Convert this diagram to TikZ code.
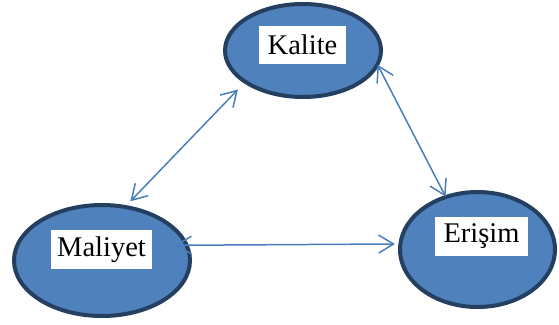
\documentclass[tikz,border=0pt]{standalone}
\usepackage{fontspec}
\setmainfont{Liberation Serif}
\usetikzlibrary{shapes.geometric,arrows.meta}
\definecolor{bubblefill}{HTML}{4F81BD}
\definecolor{bubbleedge}{HTML}{243F60}
\definecolor{linkblue}{HTML}{4A7EBB}
\tikzset{
  bubble/.style={ellipse, draw=bubbleedge, fill=bubblefill, line width=4pt, inner sep=0pt},
  tag/.style={fill=white, inner sep=0pt, font=\fontsize{28.5}{34}\selectfont},
  link/.style={draw=linkblue, line width=1.5pt,
    {Straight Barb[length=15pt,width=18pt]}-{Straight Barb[length=15pt,width=18pt]}}
}
\begin{document}
\begin{tikzpicture}[x=1pt,y=-1pt]
  \useasboundingbox (0,0) rectangle (559,324);
  % three factors
  \node[bubble, minimum width=156pt, minimum height=93pt] (kal) at (303,50.5) {};
  \node[bubble, minimum width=176pt, minimum height=111pt] (mal) at (102,260.5) {};
  \node[bubble, minimum width=155pt, minimum height=115pt] (eri) at (477.5,249.5) {};
  % labels on white boxes
  \node[tag, minimum width=87pt, minimum height=38pt] (kalt) at (302.5,45) {Kalite};
  \node[tag, minimum width=101pt, minimum height=39pt] (malt) at (101.5,249.5) {Maliyet};
  \node[tag, minimum width=93pt, minimum height=39pt] (erit) at (481.5,236.5) {Erişim};
  % two-way relations
  \draw[link, shorten <=8.7pt, shorten >=5.4pt] (kal.209.6) -- (mal.66.7);
  \draw[link, shorten <=-2pt, shorten >=-1.5pt] (kal.-12.9) -- (eri.121.8);
  \draw[link, shorten <=-13.7pt, shorten >=3.3pt] (mal.10) -- (eri.176.2);
\end{tikzpicture}
\end{document}
